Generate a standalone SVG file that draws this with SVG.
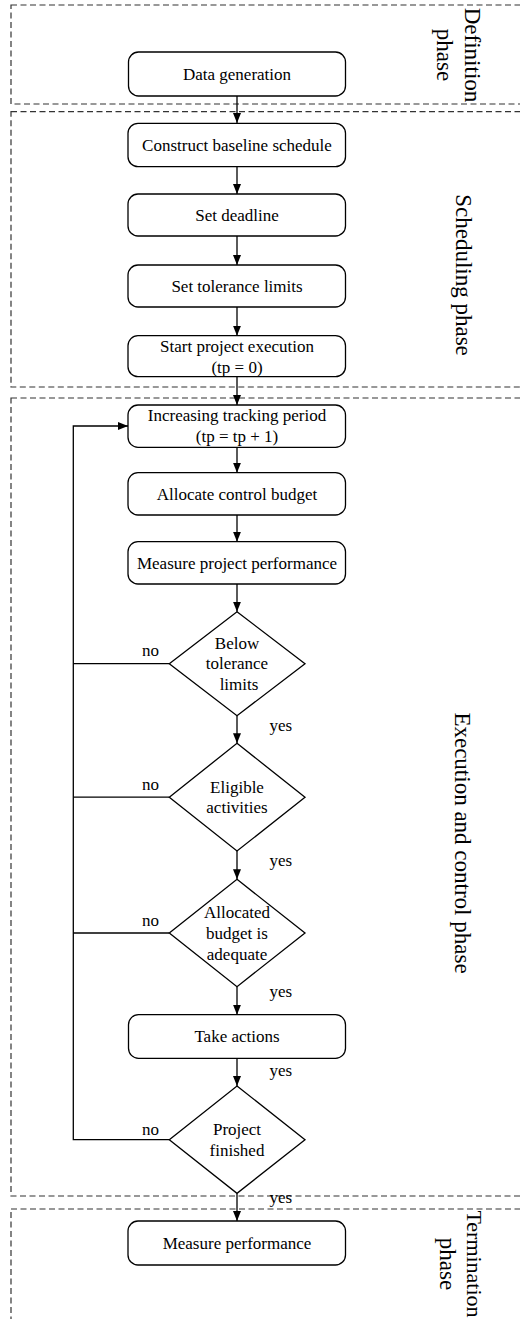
<svg xmlns="http://www.w3.org/2000/svg" width="520" height="1319" viewBox="0 0 520 1319">
<defs>
<marker id="ah" markerWidth="10" markerHeight="10" refX="10" refY="5" orient="auto" markerUnits="userSpaceOnUse">
<path d="M0,1 L10,5 L0,9 Z" fill="#000"/>
</marker>
<style>
.phase{fill:none;stroke:#333;stroke-width:1.2;stroke-dasharray:6,3.5}
.box{fill:#fff;stroke:#000;stroke-width:1.3}
.t{font-family:"Liberation Serif","Times New Roman",serif;font-size:17px;fill:#000;text-anchor:middle}
.pl{font-family:"Liberation Serif","Times New Roman",serif;font-size:23px;fill:#000;text-anchor:middle}
.lbl{font-family:"Liberation Serif","Times New Roman",serif;font-size:17px;fill:#000}
.c{fill:none;stroke:#000;stroke-width:1.3}
</style>
</defs>
<rect width="520" height="1319" fill="#fff"/>
<g id="phases">
<rect class="phase" x="11" y="5" width="530" height="99"/>
<rect class="phase" x="11" y="111.7" width="530" height="275.3"/>
<rect class="phase" x="11" y="398" width="530" height="798"/>
<rect class="phase" x="11" y="1209" width="530" height="130"/>
<text class="pl" transform="translate(465,55) rotate(90)">Definition</text>
<text class="pl" transform="translate(437,55) rotate(90)">phase</text>
<text class="pl" transform="translate(456,275) rotate(90)">Scheduling phase</text>
<text class="pl" transform="translate(455,843) rotate(90)">Execution and control phase</text>
<text class="pl" style="font-size:22px" transform="translate(467,1264) rotate(90)">Termination</text>
<text class="pl" transform="translate(440,1264) rotate(90)">phase</text>
</g>
<g id="connectors">
<line class="c" x1="237" y1="96" x2="237" y2="123" marker-end="url(#ah)"/>
<line class="c" x1="237" y1="167" x2="237" y2="194" marker-end="url(#ah)"/>
<line class="c" x1="237" y1="236" x2="237" y2="265" marker-end="url(#ah)"/>
<line class="c" x1="237" y1="307" x2="237" y2="335.7" marker-end="url(#ah)"/>
<line class="c" x1="237" y1="376.7" x2="237" y2="405" marker-end="url(#ah)"/>
<line class="c" x1="237" y1="447.3" x2="237" y2="472.7" marker-end="url(#ah)"/>
<line class="c" x1="237" y1="515" x2="237" y2="541.7" marker-end="url(#ah)"/>
<line class="c" x1="237" y1="584" x2="237" y2="611.7" marker-end="url(#ah)"/>
<line class="c" x1="237" y1="715.7" x2="237" y2="743.3" marker-end="url(#ah)"/>
<line class="c" x1="237" y1="851" x2="237" y2="879.3" marker-end="url(#ah)"/>
<line class="c" x1="237" y1="986.7" x2="237" y2="1014.7" marker-end="url(#ah)"/>
<line class="c" x1="237" y1="1058.3" x2="237" y2="1086" marker-end="url(#ah)"/>
<line class="c" x1="237" y1="1193.3" x2="237" y2="1221" marker-end="url(#ah)"/>
<polyline class="c" points="169.3,1139.7 73.3,1139.7 73.3,426 128,426" marker-end="url(#ah)"/>
<line class="c" x1="169.3" y1="663.7" x2="73.3" y2="663.7"/>
<line class="c" x1="169.3" y1="797.2" x2="73.3" y2="797.2"/>
<line class="c" x1="169.3" y1="933" x2="73.3" y2="933"/>
<text class="lbl" x="142" y="656">no</text>
<text class="lbl" x="142" y="790">no</text>
<text class="lbl" x="142" y="926">no</text>
<text class="lbl" x="142" y="1135">no</text>
<text class="lbl" x="269.5" y="731">yes</text>
<text class="lbl" x="269.5" y="866">yes</text>
<text class="lbl" x="269.5" y="997">yes</text>
<text class="lbl" x="269.5" y="1076">yes</text>
<text class="lbl" x="269.5" y="1203">yes</text>
</g>
<g id="n1"><rect class="box" x="128.5" y="52" width="217" height="44" rx="10"/><text class="t" x="237" y="80">Data generation</text></g>
<g id="n2"><rect class="box" x="128" y="123.3" width="217.5" height="43.4" rx="10"/><text class="t" x="237" y="151">Construct baseline schedule</text></g>
<g id="n3"><rect class="box" x="128" y="194" width="217.5" height="42" rx="10"/><text class="t" x="237" y="221">Set deadline</text></g>
<g id="n4"><rect class="box" x="128" y="265" width="217.5" height="42" rx="10"/><text class="t" x="237" y="292">Set tolerance limits</text></g>
<g id="n5"><rect class="box" x="128" y="335.7" width="217.5" height="41" rx="10"/><text class="t" x="237" y="352">Start project execution</text><text class="t" x="237" y="373">(tp = 0)</text></g>
<g id="n6"><rect class="box" x="128" y="405" width="217.5" height="42.3" rx="10"/><text class="t" x="237" y="421">Increasing tracking period</text><text class="t" x="237" y="442">(tp = tp + 1)</text></g>
<g id="n7"><rect class="box" x="128" y="472.7" width="217.5" height="42.3" rx="10"/><text class="t" x="237" y="500">Allocate control budget</text></g>
<g id="n8"><rect class="box" x="128" y="541.7" width="217.5" height="42.3" rx="10"/><text class="t" x="237" y="569">Measure project performance</text></g>
<g id="d1"><polygon class="box" points="237,611.7 305,663.7 237,715.7 169.3,663.7"/><text class="t" x="237" y="649">Below</text><text class="t" x="237" y="669">tolerance</text><text class="t" x="239" y="690">limits</text></g>
<g id="d2"><polygon class="box" points="237,743.3 305,797.2 237,851 169.3,797.2"/><text class="t" x="237" y="793">Eligible</text><text class="t" x="237" y="813">activities</text></g>
<g id="d3"><polygon class="box" points="237,879.3 305,933 237,986.7 169.3,933"/><text class="t" x="237" y="918">Allocated</text><text class="t" x="237" y="939">budget is</text><text class="t" x="237" y="960">adequate</text></g>
<g id="n9"><rect class="box" x="128.5" y="1014.7" width="217" height="43.6" rx="10"/><text class="t" x="237" y="1042">Take actions</text></g>
<g id="d4"><polygon class="box" points="237,1086 305,1139.7 237,1193.3 169.3,1139.7"/><text class="t" x="237" y="1135">Project</text><text class="t" x="237" y="1156">finished</text></g>
<g id="n10"><rect class="box" x="128" y="1221" width="217.5" height="44" rx="10"/><text class="t" x="237" y="1249">Measure performance</text></g>
</svg>
